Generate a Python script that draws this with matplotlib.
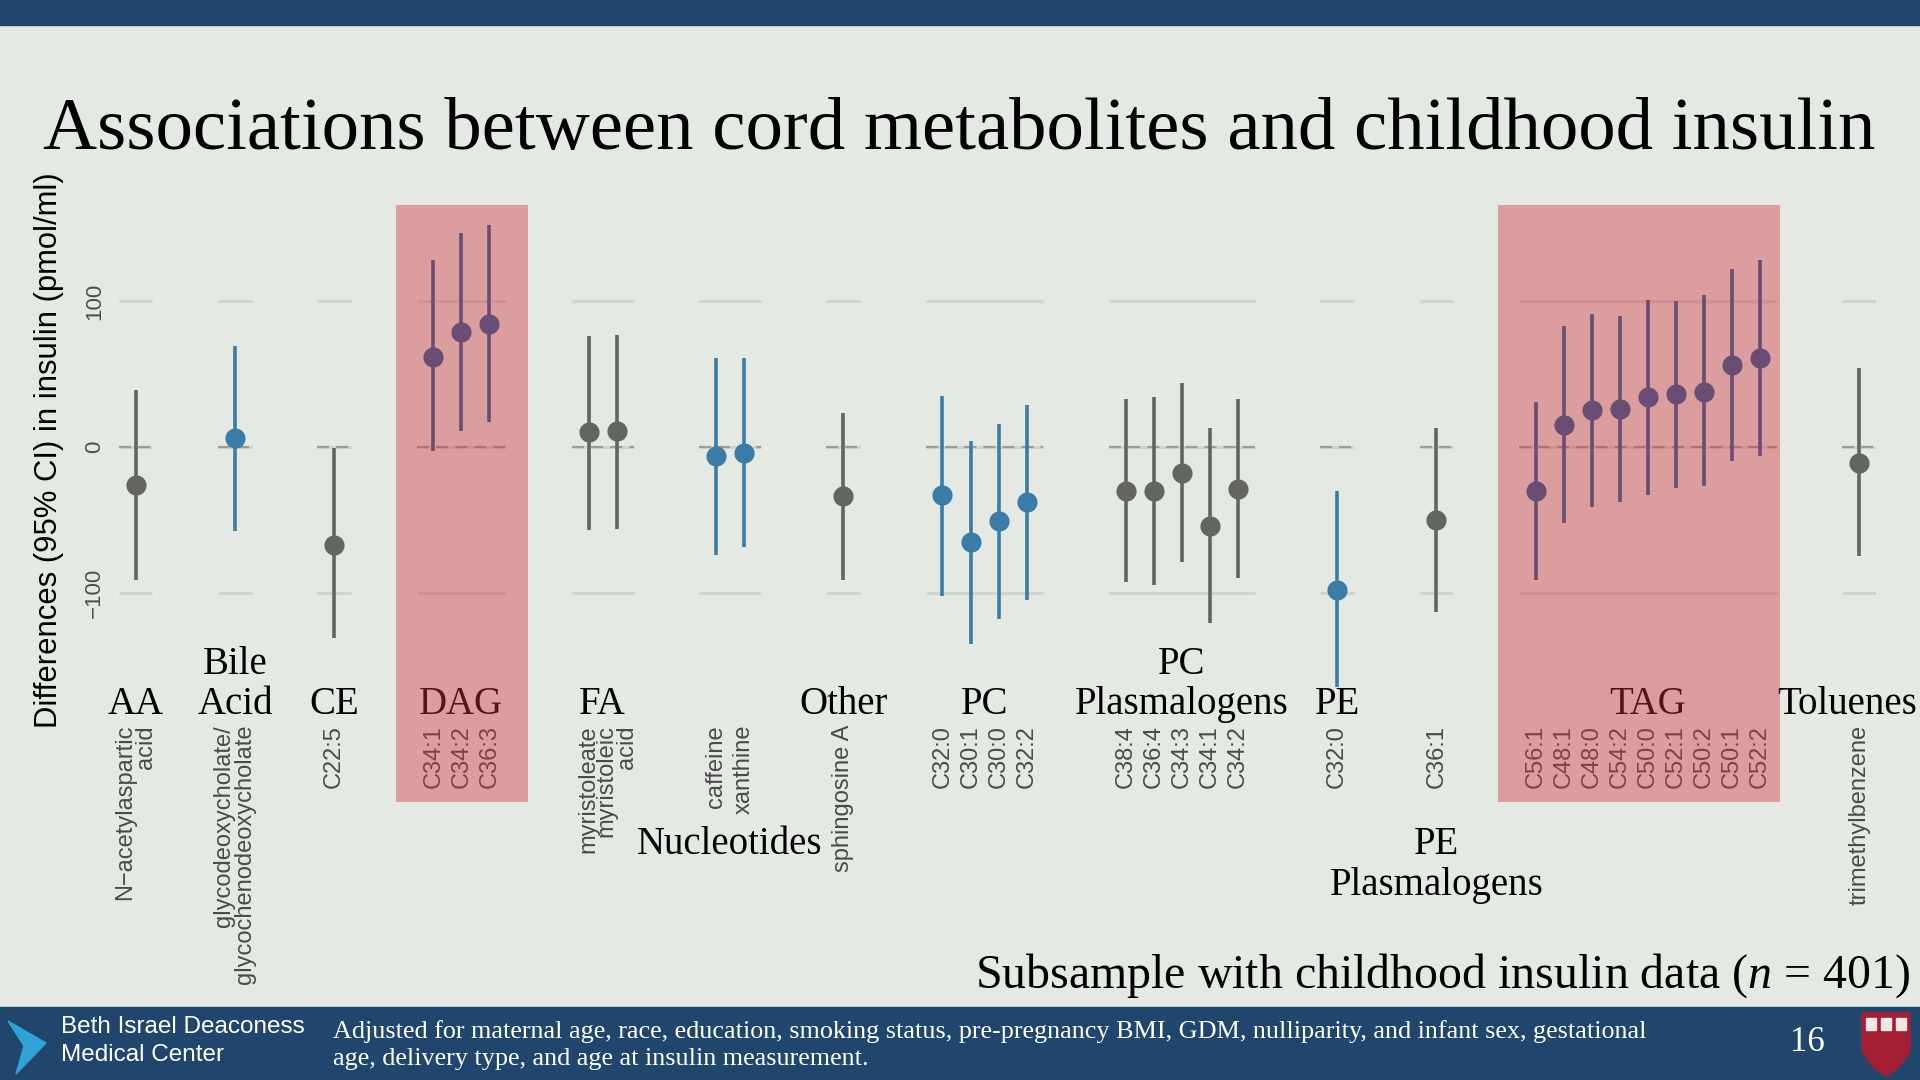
"""Cord metabolites vs childhood insulin - forest style plot"""

import matplotlib
matplotlib.use('Agg')
import matplotlib.pyplot as plt
from matplotlib.patches import Rectangle, Polygon
from matplotlib.transforms import blended_transform_factory

plt.rcParams['mathtext.fontset'] = 'custom'
plt.rcParams['mathtext.rm'] = 'Liberation Serif'
plt.rcParams['mathtext.it'] = 'Liberation Serif:italic'

# ---- data ----
groups = ['AA', 'Bile\nAcid', 'CE', 'DAG', 'FA', 'Nucleotides', 'Other', 'PC',
          'PC\nPlasmalogens', 'PE', 'PE\nPlasmalogens', 'TAG', 'Toluenes']
group_sizes = [1, 1, 1, 3, 2, 2, 1, 4, 5, 1, 1, 9, 1]
low_strip = ['Nucleotides', 'PE\nPlasmalogens']

metabolites = ['N\u2212acetylaspartic\nacid', 'glycodeoxycholate/\nglycochenodeoxycholate',
               'C22:5',
               'C34:1', 'C34:2', 'C36:3',
               'myristoleate', 'myristoleic\nacid',
               'caffeine', 'xanthine',
               'sphingosine A',
               'C32:0', 'C30:1', 'C30:0', 'C32:2',
               'C38:4', 'C36:4', 'C34:3', 'C34:1', 'C34:2',
               'C32:0',
               'C36:1',
               'C56:1', 'C48:1', 'C48:0', 'C54:2', 'C50:0', 'C52:1', 'C50:2', 'C50:1', 'C52:2',
               'trimethylbenzene']
estimate = [-26, 6, -67, 62, 79, 84, 10, 11, -6, -4, -34, -33, -65, -51, -38,
            -30, -30, -18, -54, -29, -98, -50,
            -30, 15, 25, 26, 34, 36, 38, 56, 61, -11]
ci_low = [-91, -58, -131, -3, 11, 17, -57, -56, -74, -69, -91, -102, -135, -118, -105,
          -93, -95, -79, -121, -90, -165, -113,
          -91, -52, -41, -38, -33, -28, -27, -10, -6, -75]
ci_high = [39, 69, -1, 128, 147, 152, 76, 77, 61, 61, 23, 35, 4, 16, 29,
           33, 34, 44, 13, 33, -30, 13,
           31, 83, 91, 90, 101, 100, 104, 122, 128, 54]
status = ['ns', 'nom', 'ns', 'sig', 'sig', 'sig', 'ns', 'ns', 'nom', 'nom', 'ns',
          'nom', 'nom', 'nom', 'nom', 'ns', 'ns', 'ns', 'ns', 'ns', 'nom', 'ns',
          'sig', 'sig', 'sig', 'sig', 'sig', 'sig', 'sig', 'sig', 'sig', 'ns']
yticks = [-100, 0, 100]
ytick_labels = ['\u2212100', '0', '100']

colors = {'ns': '#62665f', 'nom': '#3b7ca6', 'sig': '#22609e'}
BG = '#e4e9e4'
NAVY = '#21466e'
GAP = 3.54  # distance between last point of a panel and first of the next

fig = plt.figure(figsize=(19.2, 10.8), dpi=100)
fig.patch.set_facecolor(BG)

ax = fig.add_axes([0.0619, 0.3541, 0.9152, 0.4615])
ax.set_facecolor('none')
for s in ax.spines.values():
    s.set_visible(False)

# x positions, panel by panel
xpos = []
spans = []
x = 0.0
for n in group_sizes:
    px = [x + i for i in range(n)]
    xpos.extend(px)
    spans.append((px[0], px[-1]))
    x = px[-1] + GAP

# panel gridlines
for x0, x1 in spans:
    ax.hlines([-100, 0, 100], x0 - 0.6, x1 + 0.6, color='#d0d4cf', lw=2.2, zorder=1)
    ax.hlines(0, x0 - 0.6, x1 + 0.6, color='#9a9d98', lw=1.6,
              linestyles=(0, (5.4, 3.2)), zorder=2)

for xi, est, lo, hi, st in zip(xpos, estimate, ci_low, ci_high, status):
    ax.errorbar(xi, est, yerr=[[est - lo], [hi - est]], fmt='o', color=colors[st],
                ms=14.5, mew=0, elinewidth=2.6, capsize=2.8, capthick=2.6, zorder=3)

ax.set_xlim(-0.6, xpos[-1] + 0.6)
ax.set_ylim(-172, 170)

ax.set_yticks(yticks, labels=ytick_labels)
ax.tick_params(axis='y', length=0, pad=10, labelsize=16, labelcolor='#4d4d4d')
for lbl in ax.get_yticklabels():
    lbl.set_rotation(90)
    lbl.set_va('center')
    lbl.set_family('Liberation Sans')

ax.set_xticks(xpos, labels=metabolites)
ax.tick_params(axis='x', length=0, pad=19.7, labelsize=17, labelcolor='#4a4a4a')
for lbl in ax.get_xticklabels():
    lbl.set_rotation(90)
    lbl.set_ha('center')
    lbl.set_va('top')
    lbl.set_multialignment('right')
    lbl.set_linespacing(0.95)
    lbl.set_family('Liberation Sans')

# facet strip labels
trans = blended_transform_factory(ax.transData, fig.transFigure)
for name, (x0, x1) in zip(groups, spans):
    cx = (x0 + x1) / 2
    if name in low_strip:
        ax.text(cx, 0.2355, name, transform=trans, ha='center', va='top',
                fontsize=28, family='Liberation Serif', linespacing=1.15)
    elif name == 'Toluenes':
        fig.text(0.9985, 0.331, name, ha='right', va='bottom',
                 fontsize=28, family='Liberation Serif')
    else:
        ax.text(cx, 0.331, name, transform=trans, ha='center', va='bottom',
                fontsize=28, family='Liberation Serif', linespacing=1.1)

fig.text(0.0255, 0.583, 'Differences (95% CI) in insulin (pmol/ml)', rotation=90,
         ha='center', va='center', fontsize=22.3, family='Liberation Sans')

# slide decorations
fig.add_artist(Rectangle((0, 1 - 25 / 1080), 1, 25 / 1080, transform=fig.transFigure,
                         color=NAVY, zorder=0))
fig.text(0.0224, 0.862, 'Associations between cord metabolites and childhood insulin',
         ha='left', va='baseline', fontsize=53.8, family='Liberation Serif')
fig.text(0.995, 0.086, r'Subsample with childhood insulin data ($n$ = 401)',
         ha='right', va='baseline', fontsize=34.5, family='Liberation Serif')

# highlight boxes (translucent, drawn over the chart)
for x0, x1 in [(0.206, 0.2749), (0.780, 0.9273)]:
    fig.add_artist(Rectangle((x0, 0.2571), x1 - x0, 0.8100 - 0.2571,
                             transform=fig.transFigure, facecolor='#d2323c',
                             alpha=0.41, lw=0, zorder=10))

# footer
fig.add_artist(Rectangle((0, 0), 1, 1 - 1007 / 1080, transform=fig.transFigure,
                         color=NAVY, zorder=11))
W, H = 1920, 1080
chev = [(8, 1021), (46, 1043), (16, 1074), (24, 1046)]
fig.add_artist(Polygon([(px / W, 1 - py / H) for px, py in chev], closed=True,
                       transform=fig.transFigure, color='#2ea3d8', zorder=12))
fig.text(61 / W, 0.0361, 'Beth Israel Deaconess\nMedical Center', ha='left', va='center',
         fontsize=17.5, color='white', family='Liberation Sans', linespacing=1.35, zorder=12)
fig.text(333 / W, 0.0324,
         'Adjusted for maternal age, race, education, smoking status, pre-pregnancy BMI, GDM, '
         'nulliparity, and infant sex, gestational\nage, delivery type, and age at insulin measurement.',
         ha='left', va='center', fontsize=18.8, color='white', family='Liberation Serif',
         linespacing=1.3, zorder=12)
fig.text(1807 / W, 0.0343, '16', ha='center', va='center', fontsize=25, color='white',
         family='Liberation Serif', zorder=12)
shield = [(1862, 1013), (1910, 1013), (1910, 1052), (1898, 1068), (1886, 1076),
          (1874, 1068), (1862, 1052)]
fig.add_artist(Polygon([(px / W, 1 - py / H) for px, py in shield], closed=True,
                       transform=fig.transFigure, color='#a41e34', zorder=12))
for bx in (1866, 1881, 1896):
    fig.add_artist(Rectangle((bx / W, 1 - 1030 / H), 10 / W, 12 / H,
                             transform=fig.transFigure, color='#f2e6e6', zorder=13))

fig.savefig('out.png', dpi=100, facecolor=BG)
